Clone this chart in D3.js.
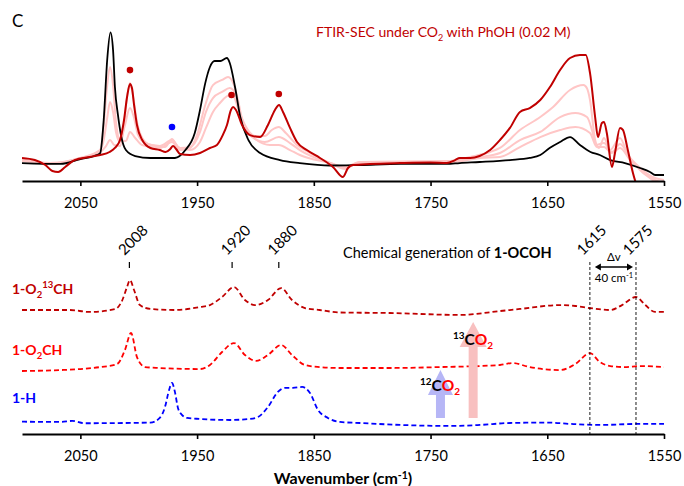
<!DOCTYPE html>
<html>
<head>
<meta charset="utf-8">
<title>FTIR-SEC spectra</title>
<script src="https://cdn.jsdelivr.net/npm/d3@7"></script>
<style>
  body { margin: 0; background: #fff; }
  text { font-family: Lato, "Open Sans", sans-serif; }
</style>
</head>
<body>
<script>
// ---- top panel: FTIR-SEC under CO2, [wavenumber, absorbance] ----
var startTrace = [[2100,0.015],[2067,0.008],[2050,0.046],[2038,0.069],[2033,0.092],[2030,0.346],[2027,0.81],[2024.2,1.02],[2022,0.885],[2020.4,0.60],[2017.8,0.385],[2015.2,0.23],[2011,0.115],[2003,0.069],[1990,0.054],[1969,0.054],[1960,0.115],[1952,0.246],[1947.5,0.423],[1943,0.63],[1939,0.754],[1935,0.80],[1930,0.80],[1924.5,0.823],[1922,0.785],[1917.5,0.60],[1913,0.369],[1906,0.192],[1896,0.092],[1879,0.038],[1862,0.015],[1836,-0.004],[1810,0],[1776,0.008],[1736,0.008],[1725,0.015],[1708,0.023],[1682,0.038],[1665,0.054],[1656,0.077],[1648,0.131],[1639,0.177],[1630.5,0.215],[1622,0.154],[1613,0.10],[1605,0.077],[1596,0.038],[1583.5,0.015],[1570.5,-0.023],[1562,-0.054],[1557.5,-0.077],[1550,-0.077]];

var midTrace1 = [[2100,0.031],[2076,0.015],[2050,0.046],[2033,0.115],[2030,0.308],[2027,0.615],[2024.6,0.754],[2022,0.615],[2019.5,0.331],[2016,0.192],[2011,0.185],[2007.5,0.254],[2003,0.208],[1997,0.154],[1982,0.131],[1971.5,0.177],[1964.6,0.115],[1956,0.131],[1950,0.231],[1943,0.462],[1936.4,0.615],[1928.6,0.654],[1923.5,0.677],[1918.4,0.615],[1915,0.50],[1910.7,0.331],[1899,0.192],[1887.6,0.154],[1880,0.154],[1870.4,0.115],[1862,0.077],[1836,0.015],[1823,-0.015],[1810.5,0.023],[1733,0.023],[1707.6,0.054],[1690.5,0.062],[1673.4,0.138],[1656,0.215],[1639,0.269],[1626,0.292],[1613.4,0.246],[1607.5,0.138],[1601.4,0.138],[1594.6,0.092],[1587.7,0.131],[1579,0.038],[1566.3,-0.054],[1557.7,-0.10],[1550,-0.115]];

var midTrace2 = [[2100,0.038],[2076,0.015],[2050,0.054],[2033,0.115],[2030,0.192],[2027,0.362],[2024.6,0.485],[2022,0.408],[2019.5,0.254],[2016,0.177],[2012,0.30],[2007.5,0.438],[2004,0.362],[2000.6,0.231],[1994.6,0.169],[1982,0.146],[1971.5,0.192],[1964.6,0.131],[1956,0.138],[1947.5,0.254],[1942.4,0.408],[1936.4,0.515],[1928.6,0.562],[1922,0.592],[1916.7,0.538],[1913,0.385],[1904.7,0.231],[1892,0.177],[1880,0.215],[1870.4,0.169],[1862,0.115],[1836,0.015],[1823,-0.023],[1810.5,0.023],[1733,0.031],[1707.6,0.062],[1690.5,0.092],[1673.4,0.192],[1656,0.254],[1639,0.369],[1626,0.40],[1616,0.369],[1611.7,0.269],[1608.3,0.154],[1601.4,0.169],[1594.6,0.10],[1587.7,0.162],[1579,0.054],[1566.3,-0.054],[1557.7,-0.115],[1550,-0.138]];

var midTrace3 = [[2100,0.038],[2076,0.008],[2050,0.054],[2033,0.10],[2028,0.146],[2024.6,0.192],[2021,0.154],[2016,0.146],[2012.6,0.308],[2010,0.523],[2007.5,0.63],[2005,0.538],[2001.5,0.331],[1997,0.208],[1990,0.154],[1977.5,0.138],[1971.5,0.20],[1966.4,0.138],[1956,0.115],[1947.5,0.177],[1942.4,0.285],[1936.4,0.408],[1930.4,0.477],[1922,0.538],[1918.4,0.523],[1915,0.438],[1909,0.308],[1900.4,0.223],[1892,0.223],[1886,0.269],[1880,0.292],[1874,0.246],[1864.4,0.154],[1853,0.092],[1836,0.015],[1823,-0.031],[1815,0.008],[1776,0.023],[1733,0.031],[1716,0.062],[1699,0.10],[1690.5,0.131],[1673.4,0.269],[1656,0.369],[1645,0.446],[1630.5,0.577],[1619,0.615],[1616,0.59],[1613.4,0.50],[1609,0.192],[1605.7,0.131],[1601.4,0.208],[1596.3,0.115],[1587.7,0.208],[1581,0.077],[1570.6,-0.038],[1557.7,-0.131],[1550,-0.192]];

var endTrace = [[2100,0.054],[2089,0.038],[2080,0],[2074,-0.046],[2069,-0.054],[2063,-0.015],[2055,0.038],[2042,0.062],[2033,0.077],[2025,0.10],[2020.4,0.131],[2016,0.192],[2012.6,0.346],[2010,0.523],[2007.5,0.623],[2005.8,0.592],[2004,0.462],[2001.5,0.308],[1997,0.192],[1990,0.131],[1982,0.115],[1977,0.10],[1973,0.123],[1970.6,0.146],[1968,0.123],[1964.6,0.085],[1956,0.077],[1947.5,0.092],[1939,0.131],[1933,0.154],[1928,0.23],[1924.4,0.308],[1921,0.423],[1919.2,0.446],[1916.7,0.423],[1911.5,0.308],[1904.7,0.23],[1896,0.215],[1889.3,0.308],[1883.3,0.423],[1879.8,0.462],[1876.4,0.408],[1870.4,0.285],[1864.4,0.177],[1856,0.115],[1844.7,0.054],[1833.6,-0.015],[1825,-0.092],[1820.7,-0.023],[1816.4,0],[1802,0.008],[1776,0.015],[1750,0.019],[1736,0.015],[1729,0.038],[1725,0.054],[1716,0.054],[1708,0.069],[1699,0.115],[1690.5,0.192],[1682,0.285],[1673.4,0.408],[1665,0.438],[1656,0.50],[1647.7,0.60],[1639,0.731],[1630.5,0.823],[1622,0.846],[1617,0.846],[1613.4,0.708],[1609,0.369],[1606.6,0.215],[1603.2,0.323],[1601.4,0.331],[1599,0.246],[1594.6,-0.015],[1592,0.092],[1587.7,0.285],[1585.2,0.27],[1581,0.115],[1576.6,-0.062],[1570.6,-0.23],[1550,-0.5]];

var redDots = [[2007.5,0.73],[1920.5,0.538],[1880,0.546]];
var blueDots = [[1971.5,0.292]];

// ---- bottom panel: reference compounds (relative absorbance) ----
var o213chTrace = [[2100,0],[2059,0],[2042,-0.015],[2020,0.008],[2014,0.077],[2010,0.177],[2007.5,0.23],[2004,0.154],[1999,0.038],[1990,0.008],[1969,0],[1947.5,0.023],[1939,0.038],[1928.6,0.10],[1918.4,0.177],[1909,0.077],[1900.4,0.038],[1889.3,0.077],[1878,0.169],[1868.7,0.077],[1857.6,0.015],[1845,0],[1827.6,-0.019],[1785,-0.023],[1725,-0.038],[1690.5,-0.008],[1673.4,0.008],[1639,0.038],[1626,0.031],[1613.4,0.015],[1596,0],[1586,0.038],[1574,0.10],[1566,0.038],[1557.7,-0.015],[1550,-0.015]];
var o2chTrace = [[2100,-0.015],[2067,-0.008],[2050,0],[2033,0.015],[2018.6,0.038],[2011.8,0.146],[2006.6,0.277],[2001.5,0.092],[1994.6,0.015],[1982,0.008],[1947.5,0],[1939,0.031],[1928.6,0.131],[1918.4,0.20],[1909,0.108],[1899.5,0.062],[1889.3,0.108],[1878,0.185],[1868.7,0.108],[1857.6,0.031],[1845,0.015],[1827.6,0.008],[1785,0.008],[1742,0.015],[1690.5,0.031],[1680,0.046],[1665,0.015],[1639,-0.008],[1626,0.038],[1613.4,0.123],[1605,0.054],[1596,0.023],[1583.5,0.015],[1570.6,0.023],[1550,0.015]];
var hydrideTrace = [[2100,0.002],[2067,0],[2057,0.008],[2046,-0.01],[1990,-0.005],[1982,0.031],[1977.5,0.115],[1974,0.246],[1971.5,0.30],[1969,0.231],[1966.4,0.108],[1963,0.054],[1958.6,0.031],[1947.5,0.023],[1922,0.015],[1904.7,0.023],[1897.8,0.038],[1889.3,0.115],[1880.8,0.231],[1874.8,0.262],[1868,0.262],[1860,0.269],[1853.3,0.223],[1846.4,0.092],[1838,0.031],[1827.6,0],[1810.5,-0.008],[1776,-0.023],[1733,-0.031],[1707.6,-0.023],[1682,-0.008],[1649.4,-0.005],[1630.5,-0.015],[1605,-0.023],[1570.6,-0.015],[1550,-0.015]];
var stackOffsets = [0.923, 0.469, 0.062];   // 1-O2(13)CH, 1-O2CH, 1-H

var wnTicks = [2050, 1950, 1850, 1750, 1650, 1550];
var peakWn = [2008, 1920, 1880];
var isoWn = [1613.5, 1574];
var isoLabels = ["1615", "1575"];

var w = 684, h = 486;
var svg = d3.select("body").append("svg").attr("width", w).attr("height", h);

var x = d3.scaleLinear().domain([2100, 1550]).range([22, 664]);
var yTop = d3.scaleLinear().domain([0, 1]).range([165, 35]);
var yBot = d3.scaleLinear().domain([0, 1]).range([430, 300]);

svg.append("clipPath").attr("id", "topclip")
    .append("rect").attr("x", 22).attr("y", 0).attr("width", 642).attr("height", 181);

function drawLine(g, data, yScale, off, color, width, dash) {
    var line = d3.line()
        .x(function(d) { return x(d[0]); })
        .y(function(d) { return yScale(d[1] + off); })
        .curve(d3.curveMonotoneX);
    var p = g.append("path").datum(data)
        .attr("d", line)
        .attr("fill", "none")
        .attr("stroke", color)
        .attr("stroke-width", width)
        .attr("stroke-linejoin", "round");
    if (dash) p.attr("stroke-dasharray", dash);
    return p;
}

// top traces
var topG = svg.append("g").attr("clip-path", "url(#topclip)");
[midTrace1, midTrace2, midTrace3].forEach(function(t) {
    drawLine(topG, t, yTop, 0, "#FFC6C6", 2);
});
drawLine(topG, startTrace, yTop, 0, "#000", 1.8);
drawLine(topG, endTrace, yTop, 0, "#C00000", 2);

svg.selectAll("circle.red").data(redDots).enter().append("circle")
    .attr("cx", function(d) { return x(d[0]); })
    .attr("cy", function(d) { return yTop(d[1]); })
    .attr("r", 3.3).attr("fill", "#C00000");
svg.selectAll("circle.blue").data(blueDots).enter().append("circle")
    .attr("cx", function(d) { return x(d[0]); })
    .attr("cy", function(d) { return yTop(d[1]); })
    .attr("r", 3.3).attr("fill", "#0000FF");

// axes
function drawAxis(yPos) {
    var g = svg.append("g").attr("transform", "translate(0," + yPos + ")")
        .call(d3.axisBottom(x).tickValues(wnTicks).tickFormat(d3.format("d"))
            .tickSize(5).tickSizeOuter(0).tickPadding(12));
    g.select(".domain").attr("stroke", "#000").attr("stroke-width", 2.2);
    g.selectAll(".tick line").attr("stroke", "#000").attr("stroke-width", 1.6);
    g.selectAll(".tick text").attr("font-family", "Lato").attr("font-size", 14.5).attr("fill", "#000");
}
drawAxis(181);
drawAxis(434);

// panel letter and title
svg.append("text").attr("x", 12).attr("y", 27).attr("font-size", 17).text("C");
var ttl = svg.append("text").attr("x", 316).attr("y", 37).attr("font-size", 14).attr("fill", "#C00000");
ttl.append("tspan").text("FTIR-SEC under CO");
ttl.append("tspan").attr("font-size", 9).attr("dy", 4).text("2");
ttl.append("tspan").attr("dy", -4).text(" with PhOH (0.02 M)");

// bottom traces
var bottomSet = [
    { data: o213chTrace, color: "#C00000" },
    { data: o2chTrace, color: "#FF0000" },
    { data: hydrideTrace, color: "#0000FF" }
];
bottomSet.forEach(function(s, i) {
    drawLine(svg, s.data, yBot, stackOffsets[i], s.color, 1.8, "5,3");
});

// left labels
function sub(t, txt, size, dy) {
    t.append("tspan").attr("font-size", size).attr("dy", dy).text(txt);
}
var l1 = svg.append("text").attr("x", 12).attr("y", 294).attr("font-size", 14)
    .attr("font-weight", "bold").attr("fill", "#C00000");
l1.append("tspan").text("1-O");
sub(l1, "2", 9.5, 4);
sub(l1, "13", 9.5, -10);
sub(l1, "CH", 14, 6);
var l2 = svg.append("text").attr("x", 12).attr("y", 355).attr("font-size", 14)
    .attr("font-weight", "bold").attr("fill", "#FF0000");
l2.append("tspan").text("1-O");
sub(l2, "2", 9.5, 4);
sub(l2, "CH", 14, -4);
svg.append("text").attr("x", 12).attr("y", 403).attr("font-size", 14)
    .attr("font-weight", "bold").attr("fill", "#0000FF").text("1-H");

// peak labels (rotated) with short dashes
peakWn.forEach(function(v) {
    svg.append("text").attr("font-size", 15)
        .attr("transform", "translate(" + (x(v) - 5) + ",256) rotate(-45)").text(v);
    svg.append("line").attr("x1", x(v)).attr("x2", x(v)).attr("y1", 262).attr("y2", 270)
        .attr("stroke", "#000").attr("stroke-width", 1.2).attr("stroke-dasharray", "6,3");
});
isoWn.forEach(function(v, i) {
    svg.append("text").attr("font-size", 15)
        .attr("transform", "translate(" + (x(v) - 7) + ",256) rotate(-45)").text(isoLabels[i]);
    svg.append("line").attr("x1", x(v)).attr("x2", x(v)).attr("y1", 262).attr("y2", 434)
        .attr("stroke", "#000").attr("stroke-width", 0.9).attr("stroke-dasharray", "3,2");
});

// delta-nu arrow
var ax1 = x(isoWn[0]) + 5, ax2 = x(isoWn[1]) - 3, ay = 267;
svg.append("line").attr("x1", ax1 + 4).attr("x2", ax2 - 4).attr("y1", ay).attr("y2", ay)
    .attr("stroke", "#000").attr("stroke-width", 1.5);
svg.append("path").attr("d", "M" + ax1 + "," + ay + "l6,-3.5v7z").attr("fill", "#000");
svg.append("path").attr("d", "M" + ax2 + "," + ay + "l-6,-3.5v7z").attr("fill", "#000");
svg.append("text").attr("x", (ax1 + ax2) / 2).attr("y", 261).attr("text-anchor", "middle")
    .attr("font-size", 11.5).text("\u0394v");
var dl = svg.append("text").attr("x", (ax1 + ax2) / 2).attr("y", 282).attr("text-anchor", "middle")
    .attr("font-size", 11.5);
dl.append("tspan").text("40 cm");
dl.append("tspan").attr("font-size", 7.5).attr("dy", -4).text("-1");

// chemical generation caption
var cap = svg.append("text").attr("x", 343).attr("y", 258).attr("font-size", 14.5);
cap.append("tspan").text("Chemical generation of ");
cap.append("tspan").attr("font-weight", "bold").text("1-OCOH");

// CO2 arrows
function upArrow(cx, yb, yHead, yTip, shaftW, headW, color) {
    svg.append("path")
        .attr("d", "M" + (cx - shaftW / 2) + "," + yb + "V" + yHead + "H" + (cx - headW / 2) +
            "L" + cx + "," + yTip + "L" + (cx + headW / 2) + "," + yHead + "H" + (cx + shaftW / 2) +
            "V" + yb + "Z")
        .attr("fill", color);
}
upArrow(x(1741.5), 418, 395, 370, 9, 25, "#B6B6F6");
upArrow(x(1713.5), 418, 347, 322, 9, 27, "#F8C0C0");

function co2Label(xs, yb, iso) {
    var t = svg.append("text").attr("x", xs).attr("y", yb).attr("font-weight", "bold").attr("font-size", 15.5);
    t.append("tspan").attr("font-size", 10).attr("dy", -6).text(iso);
    t.append("tspan").attr("dy", 6).text("C");
    t.append("tspan").attr("fill", "#FF0000").text("O");
    t.append("tspan").attr("fill", "#FF0000").attr("font-size", 10).attr("dy", 4).text("2");
}
co2Label(420, 391, "12");
co2Label(453, 345, "13");

// x label
var xl = svg.append("text").attr("x", 343).attr("y", 484).attr("text-anchor", "middle")
    .attr("font-size", 16).attr("font-weight", "bold");
xl.append("tspan").text("Wavenumber (cm");
xl.append("tspan").attr("font-size", 10.5).attr("dy", -5).text("-1");
xl.append("tspan").attr("dy", 5).text(")");
</script>
</body>
</html>
